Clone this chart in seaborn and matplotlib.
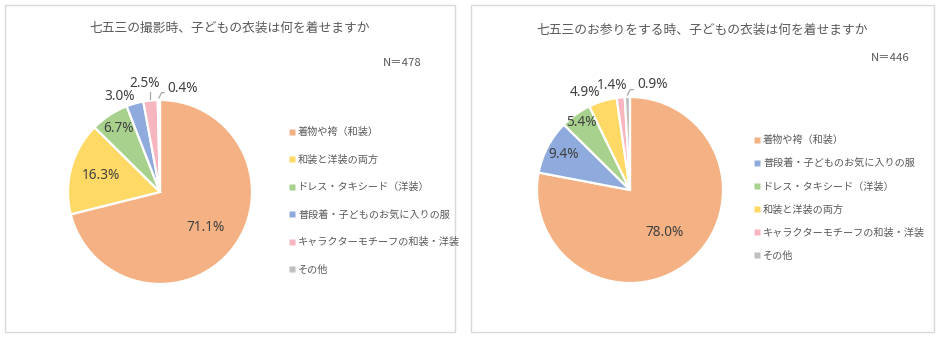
import matplotlib
matplotlib.use("Agg")
import matplotlib.pyplot as plt
from matplotlib.patches import Rectangle
from matplotlib.lines import Line2D
import numpy as np
import seaborn as sns

sns.set_theme(style="white")
plt.rcParams['font.family'] = ['Noto Sans CJK JP', 'DejaVu Sans']

# ---------------- data ----------------
title_left = "七五三の撮影時、子どもの衣装は何を着せますか"
n_left = "N＝478"
cats_left = ["着物や袴（和装）", "和装と洋装の両方", "ドレス・タキシード（洋装）",
             "普段着・子どものお気に入りの服", "キャラクターモチーフの和装・洋装", "その他"]
vals_left = [71.1, 16.3, 6.7, 3.0, 2.5, 0.4]

title_right = "七五三のお参りをする時、子どもの衣装は何を着せますか"
n_right = "N＝446"
cats_right = ["着物や袴（和装）", "普段着・子どものお気に入りの服", "ドレス・タキシード（洋装）",
              "和装と洋装の両方", "キャラクターモチーフの和装・洋装", "その他"]
vals_right = [78.0, 9.4, 5.4, 4.9, 1.4, 0.9]

color_map = {
    "着物や袴（和装）": "#F4B183",
    "和装と洋装の両方": "#FFD966",
    "ドレス・タキシード（洋装）": "#A9D18E",
    "普段着・子どものお気に入りの服": "#8FAADC",
    "キャラクターモチーフの和装・洋装": "#F7B5C0",
    "その他": "#BFBFBF",
}

W, H = 940, 339
fig = plt.figure(figsize=(W / 100, H / 100), dpi=100)
fig.patch.set_facecolor("white")

TXT = "#595959"
LBL = "#404040"
LINE = "#A6A6A6"


def fx(x):
    return x / W


def fy(y):
    return 1 - y / H


# panel borders
for (x0, x1) in [(5, 455), (471, 934)]:
    fig.add_artist(Rectangle((fx(x0), fy(332)), fx(x1 - x0), (332 - 5) / H,
                             transform=fig.transFigure, fill=False,
                             edgecolor="#D9D9D9", linewidth=1.0))


def draw_pie(cx, cy, r, cats, vals, label_cfg, leaders):
    lim = 1.4
    half = r * lim
    ax = fig.add_axes([fx(cx - half), fy(cy + half), 2 * half / W, 2 * half / H])
    pal = sns.color_palette([color_map[c] for c in cats])
    wedges, _ = ax.pie(vals, colors=pal, startangle=90, counterclock=False,
                       radius=1.0,
                       wedgeprops=dict(edgecolor="white", linewidth=1.6))
    ax.set_xlim(-lim, lim)
    ax.set_ylim(-lim, lim)
    ax.set_aspect("equal")
    ax.axis("off")
    for i, (w, v) in enumerate(zip(wedges, vals)):
        th = np.deg2rad((w.theta1 + w.theta2) / 2)
        d, dx = label_cfg[i]
        tx, ty = d * np.cos(th) + dx, d * np.sin(th)
        ax.text(tx, ty, f"{v:.1f}%", ha="center", va="center",
                fontsize=9.8, color=LBL, family=["Noto Sans", "DejaVu Sans"])
        if i in leaders:
            ex, ey = 1.0 * np.cos(th), 1.0 * np.sin(th)
            kind = leaders[i]
            if kind == "v":
                ax.plot([ex, ex], [ey + 0.02, ty - 0.1], color=LINE, lw=0.9)
            else:
                ax.plot([ex, ex + 0.03, tx - 0.2], [ey + 0.02, ty - 0.05, ty - 0.05],
                        color=LINE, lw=0.9)
    return ax


def draw_legend(cats, x, y, spacing):
    handles = [Line2D([0], [0], marker="s", linestyle="none", markersize=4,
                      markerfacecolor=color_map[c], markeredgecolor="none")
               for c in cats]
    fig.legend(handles, cats, loc="upper left", bbox_to_anchor=(fx(x), fy(y)),
               frameon=False, fontsize=7.3, labelcolor=TXT, handlelength=0.6,
               handletextpad=0.3, labelspacing=spacing, borderpad=0,
               borderaxespad=0)


# left chart
fig.text(fx(230), fy(28), title_left, ha="center", va="center", fontsize=9.2, color=TXT)
fig.text(fx(402), fy(63), n_left, ha="center", va="center", fontsize=8.2, color=TXT)
draw_pie(160, 192, 92, cats_left, vals_left,
         label_cfg=[(0.63, 0), (0.67, 0), (0.83, 0), (1.08, -0.14), (1.19, -0.04), (1.13, 0.26)],
         leaders={4: "v", 5: "b"})
draw_legend(cats_left, 289, 127, 1.72)

# right chart
fig.text(fx(702), fy(30), title_right, ha="center", va="center", fontsize=9.2, color=TXT)
fig.text(fx(890), fy(58), n_right, ha="center", va="center", fontsize=8.2, color=TXT)
draw_pie(630, 190, 93, cats_right, vals_right,
         label_cfg=[(0.59, 0), (0.81, 0), (0.895, 0), (1.10, -0.16), (1.13, -0.08), (1.13, 0.27)],
         leaders={5: "b"})
draw_legend(cats_right, 754, 135, 1.29)

fig.savefig("out.png", dpi=100, facecolor="white")
